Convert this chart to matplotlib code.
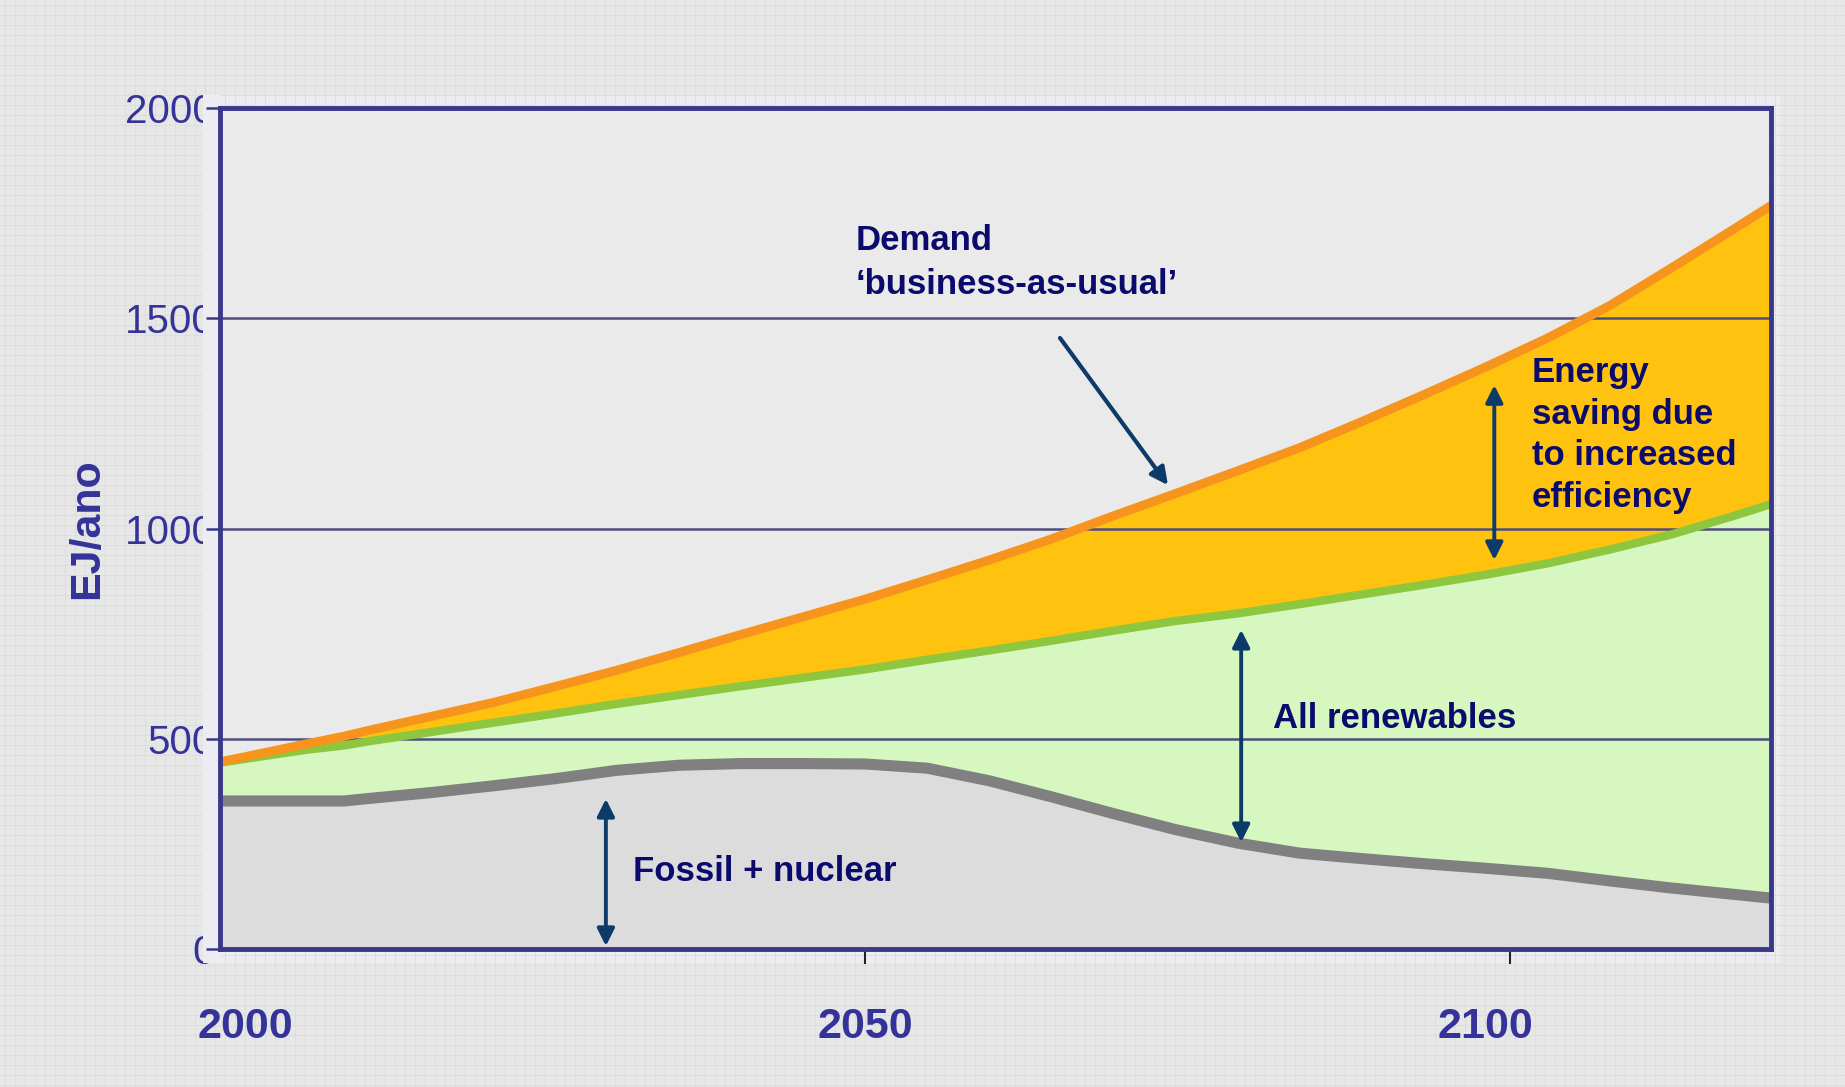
import numpy as np
import matplotlib.pyplot as plt
from matplotlib.patches import Rectangle

plt.rcParams['font.family'] = ['Liberation Sans', 'DejaVu Sans']

# scenario curves, EJ per year
years = [1998, 2000, 2005, 2008, 2010, 2015, 2020, 2025, 2030, 2035, 2040, 2045,
         2050, 2055, 2060, 2065, 2070, 2075, 2080, 2085, 2090, 2095, 2100, 2105,
         2110, 2115, 2120, 2123]
demand = [445, 457, 488, 506, 520, 553, 586, 624, 663, 705, 748, 790,
          832, 878, 925, 975, 1030, 1083, 1137, 1192, 1254, 1318, 1384, 1453,
          1530, 1620, 1712, 1768]
supply = [443, 452, 474, 484, 494, 516, 538, 560, 583, 604, 625, 645,
          665, 688, 710, 733, 757, 780, 798, 820, 843, 866, 890, 917,
          950, 986, 1030, 1058]
fossil = [352, 352, 352, 352, 358, 372, 388, 405, 425, 437, 441, 441,
          440, 430, 400, 362, 322, 284, 252, 228, 215, 203, 192, 180,
          162, 145, 130, 121]

ytick_vals = [0, 500, 1000, 1500, 2000]
ytick_text = ['0', '500', '1000', '1500', '2000']
year_labels = [2000, 2050, 2100]
xtick_marks = [2050, 2102]

label_blue = '#333399'
text_navy = '#0B0B6E'
arrow_navy = '#0C3B69'
frame_col = '#39388A'
box_col = '#ECECF2'

fig = plt.figure(figsize=(18.45, 10.87), dpi=100)
fig.patch.set_facecolor('#E7E7E7')

# squared-paper backdrop
bg = fig.add_axes([0, 0, 1, 1], zorder=-1)
bg.set_xlim(0, 1845)
bg.set_ylim(1087, 0)
bg.axis('off')
bg.vlines(np.arange(5, 1845, 10), 0, 1087, color='#DCDCDC', lw=0.6)
bg.hlines(np.arange(5, 1087, 10), 0, 1845, color='#DCDCDC', lw=0.6)
bg.add_patch(Rectangle((203, 95), 1577, 868, facecolor=box_col, edgecolor='none'))

ax = fig.add_axes([0.11924, 0.12695, 0.84065, 0.77369])
ax.set_facecolor('#EAEAEA')
ax.set_xlim(1998, 2123)
ax.set_ylim(0, 2000)

ax.fill_between(years, 0, fossil, color='#DCDCDC', lw=0, zorder=1)
ax.fill_between(years, fossil, supply, color='#D6F8C0', lw=0, zorder=1)
ax.fill_between(years, supply, demand, color='#FFC20E', lw=0, zorder=1)

ax.hlines(ytick_vals[1:-1], 1998, 2123, color='#4E4E7E', lw=1.8, zorder=1.5)

ax.plot(years, fossil, color='#808080', lw=8, zorder=2)
ax.plot(years, supply, color='#8DC63F', lw=6, zorder=2.1)
ax.plot(years, demand, color='#F7941D', lw=6.5, zorder=2.2)

for s in ax.spines.values():
    s.set_color(frame_col)
    s.set_linewidth(3.5)
    s.set_zorder(3)

ax.set_yticks(ytick_vals, ytick_text)
ax.tick_params(axis='y', length=0, pad=3.6, labelsize=29, labelcolor=label_blue)
ax.set_xticks(xtick_marks, ['', ''])
ax.tick_params(axis='x', length=11, width=1.5, color='#222222', direction='out')
ax.xaxis.set_zorder(2.8)

# strip that trims the right side of the y labels
ax.add_patch(Rectangle((-0.01096, -0.01665), 0.01096, 1.0321, transform=ax.transAxes,
                       clip_on=False, facecolor=box_col, edgecolor='none', zorder=2.6))
ax.hlines(ytick_vals, -0.009, 0, transform=ax.get_yaxis_transform(), clip_on=False,
          color=frame_col, lw=1.8, zorder=2.7)

for yr in year_labels:
    ax.text(yr, -0.093, str(yr), transform=ax.get_xaxis_transform(), ha='center',
            va='center', fontsize=31, fontweight='bold', color=label_blue)

ax.text(-0.0858, 0.5, 'EJ/ano', transform=ax.transAxes, rotation=90, ha='center',
        va='center', fontsize=31, fontweight='bold', color=label_blue)

# labels and arrows
ax.text(2049.2, 1724, 'Demand\n\u2018business-as-usual\u2019', ha='left', va='top',
        fontsize=25, fontweight='bold', color=text_navy, linespacing=1.42, zorder=4)
ax.annotate('', xy=(2074.4, 1103), xytext=(2065.7, 1453),
            arrowprops=dict(arrowstyle='-|>', color=arrow_navy, lw=3,
                            mutation_scale=26, shrinkA=0, shrinkB=0), zorder=4)

ax.text(2103.7, 1222, 'Energy\nsaving due\nto increased\nefficiency', ha='left',
        va='center', fontsize=25, fontweight='bold', color=text_navy, linespacing=1.33,
        zorder=4)
ax.text(2082.9, 549, 'All renewables', ha='left', va='center', fontsize=25,
        fontweight='bold', color=text_navy, zorder=4)
ax.text(2031.3, 185, 'Fossil + nuclear', ha='left', va='center', fontsize=25,
        fontweight='bold', color=text_navy, zorder=4)

for x, top, bottom in [(2100.7, 1341, 925), (2080.3, 759, 254), (2029.1, 357, 7)]:
    ax.annotate('', xy=(x, top), xytext=(x, bottom),
                arrowprops=dict(arrowstyle='<|-|>', color=arrow_navy, lw=2.8,
                                mutation_scale=26, shrinkA=0, shrinkB=0), zorder=4)

fig.savefig('out.png', dpi=100, facecolor=fig.get_facecolor())
